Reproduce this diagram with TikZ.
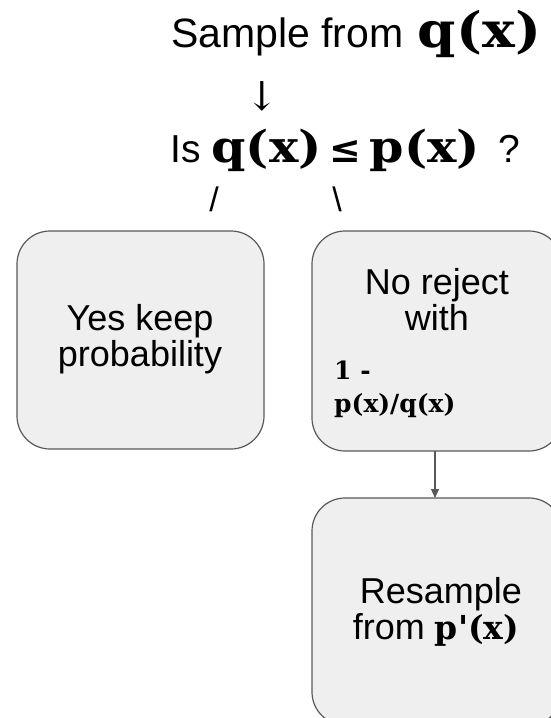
\documentclass[tikz,border=0pt]{standalone}
\usepackage{fontspec}
\setmainfont{Liberation Sans}
\newfontfamily\mfont{DejaVu Serif}[FakeStretch=1.12]
\newfontfamily\mfontn{DejaVu Serif}
\usetikzlibrary{arrows.meta}
\newcommand{\mb}[1]{{\mfont\bfseries #1}}
\newcommand{\mn}[1]{{\mfontn\bfseries #1}}
\definecolor{boxfill}{HTML}{EFEFEF}
\definecolor{boxline}{HTML}{595959}
\tikzset{
  box/.style={draw=boxline, fill=boxfill, line width=1.2pt, rounded corners=33pt},
  txt/.style={inner sep=0pt, text=black},
  boxtxt/.style={txt, align=center, font=\fontsize{36}{36}\selectfont},
  small/.style={txt, anchor=base west, font=\fontsize{25}{30}\selectfont},
  conn/.style={draw=boxline, line width=1.2pt, -{Triangle[length=9pt,width=8pt]}}
}
\begin{document}
\begin{tikzpicture}[x=1pt,y=-1pt]
\useasboundingbox (0,0) rectangle (551,718);
\clip (0,0) rectangle (551,718);
% boxes
\draw[box] (17,231) rectangle (264,449);
\draw[box] (312,231) rectangle (562,451);
\draw[box] (312,498) rectangle (562,725);
\node[txt, anchor=base west] (title) at (171,47) {\fontsize{41}{48}\selectfont Sample from\hspace{3pt} \mb{\fontsize{49}{50}\selectfont q(x)}};
\node[txt, anchor=base] (down) at (262,110) {\fontsize{40}{48}\selectfont\mfontn ↓};
\node[txt, anchor=base west] (cond) at (170,162) {\fontsize{39}{42}\selectfont Is \mb{\fontsize{44}{48}\selectfont q(x)}\hspace{8pt}\mn{\fontsize{38}{42}\selectfont ≤}\hspace{8pt}\mb{\fontsize{44}{48}\selectfont p(x)} \hspace{8pt}?};
\node[txt, anchor=base] (sl) at (214,211) {\fontsize{34}{38}\selectfont /};
\node[txt, anchor=base] (bs) at (337,211) {\fontsize{34}{38}\selectfont \textbackslash};
\node[boxtxt, anchor=north] (yes) at (140,304) {Yes keep\\probability};
\node[boxtxt, anchor=north] (no) at (437,268) {No reject\\with};
\node[small] (one) at (334,379) {\mn{1 -}};
\node[small] (frac) at (334,412) {\mn{p(x)/q(x)}};
\node[boxtxt, anchor=north] (res) at (436,577) {\ Resample\\from \mn{\fontsize{33}{36}\selectfont p'(x)}};
\coordinate (a1) at (435,451);
\coordinate (a2) at (435,498);
\draw[conn] (a1) -- (a2);
\end{tikzpicture}
\end{document}
